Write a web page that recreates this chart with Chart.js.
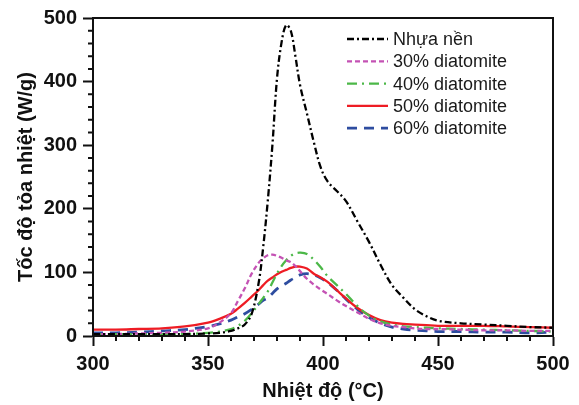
<!DOCTYPE html>
<html>
<head>
<meta charset="utf-8">
<script src="https://cdn.jsdelivr.net/npm/chart.js@4/dist/chart.umd.min.js"></script>
<style>
  body { margin: 0; background: #fff; }
  canvas { display: block; }
</style>
</head>
<body>
<canvas id="myChart" width="579" height="405"></canvas>
<script>
// nhiet do (°C) - shared x grid for all curves
const temps = [300,310,320,330,340,350,355,360,363,366,369,372,374,376,378,380,382,384,386,388,390,393,396,399,402,406,410,415,420,425,430,435,440,445,450,460,470,480,490,500];

// toc do toa nhiet (W/g)
const nhuaNen = [3,3,3,3,3,4,5,8,12,18,35,83,140,213,300,405,462,489,480,440,395,350,305,265,243,228,212,180,148,112,80,60,42,31,24,20,18,16,14,13];
const d30 = [3,3,4,5,7,12,21,36,55,75,98,115,122,127,128,126,123,119,116,110,102,90,81,73,66,56,47,37,27,20,16,14,12,11,11,10,9,9,8,8];
const d40 = [3,3,3,3,3,5,7,11,16,24,36,50,60,70,84,98,110,119,126,130,131,129,120,108,94,80,66,47,32,23,18,15,14,13,12,11,10,9,8,7];
const d50 = [10,10,11,12,15,21,27,35,43,52,62,72,80,87,92,97,101,104,107,109,109,106,98,92,85,72,59,44,33,25,21,19,18,17,16,16,16,15,14,13];
const d60 = [5,5,6,8,10,15,19,25,30,35,42,50,56,60,67,74,79,83,88,92,96,98,96,91,84,72,58,42,29,20,14,11,9,8,7,7,6,6,5,6];

const seriesNames = ['Nhựa nền', '30% diatomite', '40% diatomite', '50% diatomite', '60% diatomite'];
const xTicks = [300, 350, 400, 450, 500];
const yTicks = [0, 100, 200, 300, 400, 500];

const FONT = "'Liberation Sans', Arial, sans-serif";
Chart.defaults.font.family = FONT;
Chart.defaults.color = '#111';

const toPts = vals => temps.map((t, i) => ({ x: t, y: vals[i] }));

const styles = [
  { color: '#000000', dash: [7, 3, 2, 3], width: 2.3 },
  { color: '#c452b4', dash: [5, 3], width: 2.3 },
  { color: '#4cb848', dash: [10, 5, 2, 5], width: 2.3 },
  { color: '#ee1c24', dash: [], width: 2.3 },
  { color: '#2e4da0', dash: [10, 7], width: 2.8 }
];
const allVals = [nhuaNen, d30, d40, d50, d60];

// frame + minor ticks
const framePlugin = {
  id: 'frame',
  afterDraw(chart) {
    const ctx = chart.ctx;
    const a = chart.chartArea;
    const xs = chart.scales.x, ys = chart.scales.y;
    ctx.save();
    ctx.strokeStyle = '#111';
    ctx.lineWidth = 2;
    ctx.setLineDash([]);
    ctx.strokeRect(a.left, a.top, a.right - a.left, a.bottom - a.top);
    ctx.beginPath();
    for (let v = 300; v <= 500; v += 10) {
      if (v % 50 === 0) continue;
      const px = xs.getPixelForValue(v);
      ctx.moveTo(px, a.bottom);
      ctx.lineTo(px, a.bottom + 5);
    }
    for (let v = 0; v <= 500; v += 20) {
      if (v % 100 === 0) continue;
      const py = ys.getPixelForValue(v);
      ctx.moveTo(a.left, py);
      ctx.lineTo(a.left - 5, py);
    }
    ctx.stroke();
    ctx.restore();
  }
};

// legend drawn inside the plot, top right
const legendPlugin = {
  id: 'innerLegend',
  afterDraw(chart) {
    const ctx = chart.ctx;
    ctx.save();
    chart.data.datasets.forEach((ds, i) => {
      const y = 39 + i * 22.3;
      ctx.beginPath();
      ctx.strokeStyle = ds.borderColor;
      ctx.lineWidth = ds.borderWidth;
      ctx.setLineDash(ds.borderDash);
      ctx.moveTo(347, y);
      ctx.lineTo(388, y);
      ctx.stroke();
      ctx.setLineDash([]);
      ctx.fillStyle = '#1a1a1a';
      ctx.font = '18px ' + FONT;
      ctx.textBaseline = 'middle';
      ctx.fillText(ds.label, 393, y + 1);
    });
    ctx.restore();
  }
};

new Chart(document.getElementById('myChart'), {
  type: 'line',
  data: {
    datasets: allVals.map((vals, i) => ({
      label: seriesNames[i],
      data: toPts(vals),
      borderColor: styles[i].color,
      borderDash: styles[i].dash,
      borderWidth: styles[i].width,
      pointRadius: 0,
      fill: false,
      tension: 0.35
    }))
  },
  options: {
    responsive: false,
    animation: false,
    layout: { padding: { top: 17, right: 26, left: 0, bottom: 0 } },
    plugins: { legend: { display: false }, tooltip: { enabled: false } },
    scales: {
      x: {
        type: 'linear',
        min: 300, max: 500,
        afterBuildTicks: s => { s.ticks = xTicks.map(v => ({ value: v })); },
        afterFit: s => { s.height = 69; },
        border: { display: true, color: '#111', width: 2 },
        grid: { drawOnChartArea: false, tickLength: 10, tickWidth: 2, tickColor: '#111' },
        ticks: { font: { size: 20, weight: 'bold' }, padding: 6, maxRotation: 0, autoSkip: false, color: '#111' },
        title: { display: true, text: 'Nhiệt độ (°C)', font: { size: 20, weight: 'bold' }, padding: { top: 2, bottom: 2 }, color: '#111' }
      },
      y: {
        min: 0, max: 500,
        afterBuildTicks: s => { s.ticks = yTicks.map(v => ({ value: v })); },
        afterFit: s => { s.width = 93; },
        border: { display: true, color: '#111', width: 2 },
        grid: { drawOnChartArea: false, tickLength: 10, tickWidth: 2, tickColor: '#111' },
        ticks: { font: { size: 20, weight: 'bold' }, padding: 6, color: '#111' },
        title: { display: true, text: 'Tốc độ tỏa nhiệt (W/g)', font: { size: 20, weight: 'bold' }, padding: { top: 14, bottom: 0 }, color: '#111' }
      }
    }
  },
  plugins: [framePlugin, legendPlugin]
});
</script>
</body>
</html>
